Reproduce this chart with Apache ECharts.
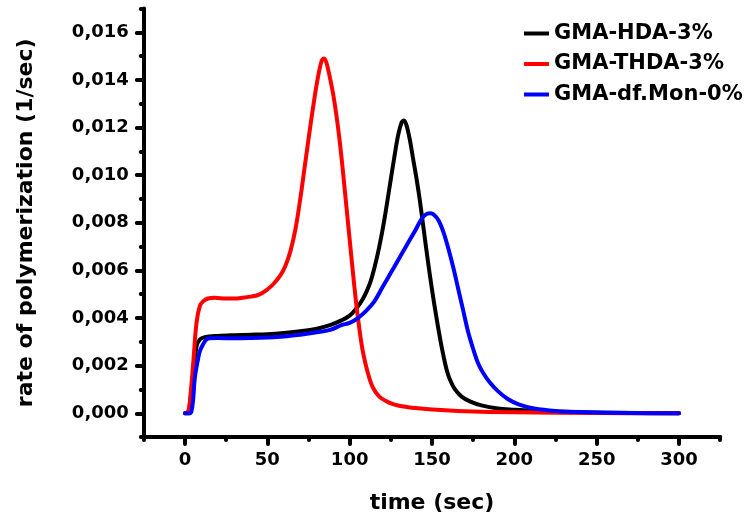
<!DOCTYPE html>
<html><head><meta charset="utf-8">
<script src="https://cdn.jsdelivr.net/npm/echarts@6/dist/echarts.min.js"></script>
<style>html,body{margin:0;padding:0;background:#fff}#c{width:745px;height:523px}</style>
</head><body><div id="c"></div>
<script>
const seriesNames = ['GMA-HDA-3%', 'GMA-THDA-3%', 'GMA-df.Mon-0%'];
const seriesColors = ['#000000', '#ff0000', '#0000ff'];

const hdaTime = [0,2,3,5,7,9,12,20,30,40,50,60,70,80,88,95,100,104,108,112,115,118,121,124,127,129.5,131.5,133,134.5,136.5,138.5,140.5,142.5,145,147.5,150,152.5,155,157,159,161,164,168,173,180,190,200,210,230,260,300];
const hdaRate = [0,0,0.0004,0.0016,0.0028,0.0031,0.0032,0.00325,0.00328,0.0033,0.00332,0.00337,0.00345,0.00355,0.0037,0.0039,0.0041,0.0044,0.0048,0.0054,0.0061,0.0070,0.0081,0.0094,0.0107,0.0117,0.0122,0.0123,0.0121,0.0115,0.0107,0.0099,0.0090,0.0077,0.0064,0.0052,0.0041,0.0031,0.0024,0.0018,0.0014,0.0010,0.0007,0.0005,0.00033,0.0002,0.00015,0.00011,0.00006,0.00002,0];

const thdaTime = [0,2,3,5,7,9,11,14,18,25,30,35,40,45,50,54,58,61,64,67,70,73,76,79,81,83,84.5,86,88,90,92,94,96,98,100,102,104,106,108,111,114,118,124,130,140,150,170,200,250,300];
const thdaRate = [0,0.0001,0.0005,0.0021,0.0038,0.0045,0.0047,0.00482,0.00485,0.00482,0.00482,0.00485,0.0049,0.00498,0.0052,0.00545,0.0058,0.0062,0.0068,0.0077,0.0090,0.0105,0.0120,0.0134,0.0142,0.0148,0.0149,0.0147,0.0141,0.0134,0.0125,0.0114,0.0101,0.0087,0.0073,0.0059,0.0046,0.0035,0.0026,0.0017,0.0011,0.0007,0.00045,0.00032,0.00022,0.00016,0.00009,0.00004,0.00001,0];

const monTime = [0,3,4,5,6,8,9,11,13,15,20,30,40,50,60,70,80,88,95,100,105,110,115,120,125,130,135,140,144,147,149,151,154,157,160,163,166,169,172,175,178,181,185,190,196,203,212,225,245,270,300];
const monRate = [0,0,0.0001,0.0006,0.0015,0.0023,0.0026,0.0029,0.0031,0.00315,0.00316,0.00315,0.00316,0.00318,0.00322,0.0033,0.0034,0.0035,0.0037,0.0038,0.0040,0.0043,0.0047,0.0053,0.0059,0.0065,0.0071,0.0077,0.0082,0.00838,0.0084,0.00835,0.0081,0.0076,0.0069,0.0061,0.0052,0.0043,0.0034,0.0027,0.0021,0.0017,0.0013,0.00093,0.0006,0.00036,0.0002,0.0001,0.00004,0.00001,0];

const xMajorTicks = [0,50,100,150,200,250,300];
const xMinorTicks = [-25,25,75,125,175,225,275,325];
const yMajorTicks = [0,0.002,0.004,0.006,0.008,0.010,0.012,0.014,0.016];
const yMinorTicks = [-0.001,0.001,0.003,0.005,0.007,0.009,0.011,0.013,0.015,0.017];

const FONT = 'DejaVu Sans';
const pairs = (t, v) => t.map((x, i) => [x, v[i]]);
const fmtY = v => v.toFixed(3).replace('.', ',');

const axisLineStyle = {color:'#000', width:4, cap:'round'};
const tickStyle = {color:'#000', width:4, cap:'round'};
const chart = echarts.init(document.getElementById('c'));
chart.setOption({
  animation: false,
  backgroundColor: '#fff',
  grid: {left: 143.8, right: 24.8, top: 8.5, bottom: 85.9},
  legend: {
    orient: 'vertical', left: 519, top: 18, itemWidth: 25, itemHeight: 4, itemGap: 9.5,
    icon: 'rect',
    textStyle: {fontFamily: FONT, fontWeight: 'bold', fontSize: 21, color: '#000', lineHeight: 21},
    data: seriesNames
  },
  xAxis: [{
    type: 'value', min: -25, max: 325,
    name: 'time (sec)', nameLocation: 'middle', nameGap: 55,
    nameTextStyle: {fontFamily: FONT, fontWeight: 'bold', fontSize: 22, color: '#000'},
    axisLine: {show: true, onZero: false, lineStyle: axisLineStyle},
    axisTick: {show: true, customValues: xMajorTicks, length: 7, lineStyle: tickStyle},
    axisLabel: {customValues: xMajorTicks, margin: 14, fontFamily: FONT, fontWeight: 'bold', fontSize: 18, color: '#000'},
    splitLine: {show: false}
  }, {
    type: 'value', min: -25, max: 325, position: 'bottom',
    axisLine: {show: false, onZero: false},
    axisTick: {show: true, customValues: xMinorTicks, length: 3, lineStyle: tickStyle},
    axisLabel: {show: false},
    splitLine: {show: false}
  }],
  yAxis: [{
    type: 'value', min: -0.001, max: 0.017,
    name: 'rate of polymerization (1/sec)', nameLocation: 'middle', nameRotate: 90, nameGap: 107,
    nameTextStyle: {fontFamily: FONT, fontWeight: 'bold', fontSize: 22, color: '#000'},
    axisLine: {show: true, onZero: false, lineStyle: axisLineStyle},
    axisTick: {show: true, customValues: yMajorTicks, length: 7, lineStyle: tickStyle},
    axisLabel: {customValues: yMajorTicks, margin: 15, formatter: fmtY, fontFamily: FONT, fontWeight: 'bold', fontSize: 18, color: '#000'},
    splitLine: {show: false}
  }, {
    type: 'value', min: -0.001, max: 0.017, position: 'left',
    axisLine: {show: false, onZero: false},
    axisTick: {show: true, customValues: yMinorTicks, length: 3, lineStyle: tickStyle},
    axisLabel: {show: false},
    splitLine: {show: false}
  }],
  series: [
    {name: seriesNames[0], type: 'line', data: pairs(hdaTime, hdaRate), color: seriesColors[0]},
    {name: seriesNames[1], type: 'line', data: pairs(thdaTime, thdaRate), color: seriesColors[1]},
    {name: seriesNames[2], type: 'line', data: pairs(monTime, monRate), color: seriesColors[2]}
  ].map(s => Object.assign(s, {showSymbol: false, symbol: 'none', smooth: 0.35, lineStyle: {width: 4, color: s.color, join: 'round', cap: 'round'}, itemStyle: {color: s.color}}))
});
</script>
</body></html>
